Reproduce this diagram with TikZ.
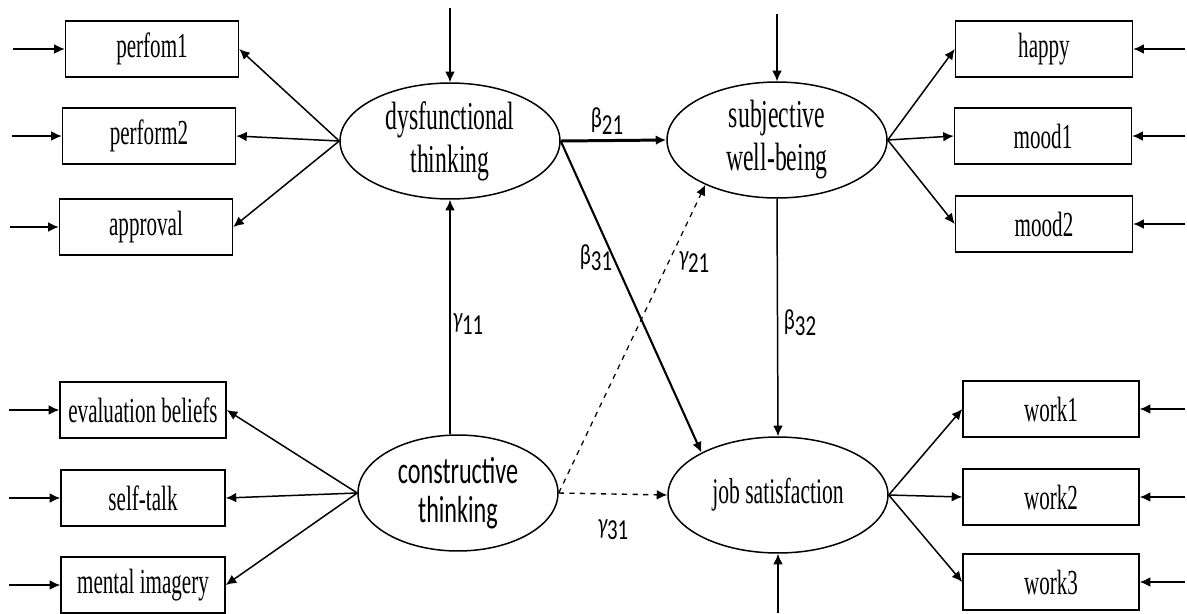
\documentclass[tikz,border=0pt]{standalone}
\usepackage{fontspec}
\setmainfont[FakeStretch=0.6]{Liberation Serif}
\newfontfamily\coeffont[FakeStretch=0.72]{Carlito}
\newfontfamily\consfont[FakeStretch=0.64]{Carlito}
\usetikzlibrary{arrows.meta,shapes.geometric}

\begin{document}
\begin{tikzpicture}[x=0.02cm,y=-0.02cm]

	\tikzstyle indicator=[draw,line width=0.85pt,minimum width=3.46cm,minimum height=1.12cm,inner sep=0pt,font=\fontsize{20}{22}\selectfont];
	\tikzstyle factor=[draw,ellipse,line width=0.85pt,minimum width=4.4cm,minimum height=2.32cm,inner sep=0pt,align=center,font=\fontsize{22.5}{24.5}\selectfont];
	\tikzstyle coef=[font=\coeffont\fontsize{16.5}{18}\selectfont];
	\tikzstyle load lines=[line width=0.85pt,-{Latex[length=6pt,width=5.5pt]}];
	\tikzstyle error lines=[line width=0.85pt,-{Latex[length=6pt,width=5.5pt]}];
	\tikzstyle path lines=[line width=0.85pt,-{Latex[length=6pt,width=5.5pt]}];

	\useasboundingbox (0,0) rectangle (1187,613);

	% latent factors
	\node[factor] (dysf) at (450,141) {dysfunctional\\thinking};
	\node[factor] (subj) at (777,140) {subjective\\well-being};
	\node[factor,minimum width=4cm,font=\consfont\fontsize{21.5}{22.5}\selectfont] (cons) at (458,493) {constructive\\thinking};
	\node[factor,font=\fontsize{20.5}{22}\selectfont] (job) at (778,495) {job satisfaction};

	% indicators
	\node[indicator] (perf1) at (152,49) {perfom1};
	\node[indicator] (perf2) at (149,136) {perform2};
	\node[indicator] (appr) at (146,227) {approval};
	\node[indicator,minimum width=3.32cm] (evalb) at (143,410) {evaluation beliefs};
	\node[indicator,minimum width=3.28cm] (stalk) at (143,498) {self-talk};
	\node[indicator,minimum width=3.28cm] (mimag) at (143,585) {mental imagery};
	\node[indicator,minimum width=3.54cm] (happy) at (1044,49) {happy};
	\node[indicator,minimum width=3.54cm] (mood1) at (1043,136) {mood1};
	\node[indicator,minimum width=3.54cm] (mood2) at (1044,224) {mood2};
	\node[indicator,minimum width=3.52cm] (work1) at (1051,409) {work1};
	\node[indicator,minimum width=3.52cm] (work2) at (1051,497) {work2};
	\node[indicator,minimum width=3.52cm] (work3) at (1051,582) {work3};

	% loadings
	\foreach \ind in {perf1,perf2,appr} \draw[load lines] (dysf.west) -- (\ind.east);
	\foreach \ind in {evalb,stalk,mimag} \draw[load lines] (cons.west) -- (\ind.east);
	\foreach \ind in {happy,mood1,mood2} \draw[load lines] (subj.east) -- (\ind.west);
	\foreach \ind in {work1,work2,work3} \draw[load lines] (job.east) -- (\ind.west);

	% error terms
	\coordinate (eperf1) at (13,49);
	\coordinate (eperf2) at (12,136);
	\coordinate (eappr) at (10,227);
	\coordinate (eevalb) at (9,410);
	\coordinate (estalk) at (9,498);
	\coordinate (emimag) at (9,585);
	\foreach \ind in {perf1,perf2,appr,evalb,stalk,mimag} \draw[error lines] (e\ind) -- (\ind.west);
	\coordinate (ehappy) at (1185,49);
	\coordinate (emood1) at (1185,136);
	\coordinate (emood2) at (1185,224);
	\coordinate (ework1) at (1185,409);
	\coordinate (ework2) at (1185,497);
	\coordinate (ework3) at (1185,582);
	\foreach \ind in {happy,mood1,mood2,work1,work2,work3} \draw[error lines] (e\ind) -- (\ind.east);
	\coordinate (edysf) at (450,8);
	\coordinate (esubj) at (777,14);
	\coordinate (ejob) at (778,613);
	\draw[error lines] (edysf) -- (dysf.north);
	\draw[error lines] (esubj) -- (subj.north);
	\draw[error lines] (ejob) -- (job.south);

	% structural paths
	\draw[path lines,line width=1.7pt] (dysf.east) -- (subj.west);
	\draw[path lines,line width=1.2pt] (dysf.east) -- (job.151);
	\draw[path lines] (dysf.south |- cons.north) -- (dysf.south);
	\draw[path lines] (subj.south) -- (job.north);
	\draw[path lines,line width=0.7pt,dashed] (cons.east) -- (subj.212);
	\draw[path lines,line width=0.8pt,dashed] (cons.east) -- (job.west);

	% coefficients
	\node[coef] (b21) at (607,121) {β\raisebox{-0.45ex}{21}};
	\node[coef] (b31) at (596,258) {β\raisebox{-0.45ex}{31}};
	\node[coef] (g21) at (694,262) {\itshape γ\upshape\raisebox{-0.45ex}{21}};
	\node[coef] (g11) at (468,324) {\itshape γ\upshape\raisebox{-0.45ex}{11}};
	\node[coef] (g31) at (613,530) {\itshape γ\upshape\raisebox{-0.45ex}{31}};
	\node[coef] (b32) at (800,323) {β\raisebox{-0.45ex}{32}};

\end{tikzpicture}
\end{document}
